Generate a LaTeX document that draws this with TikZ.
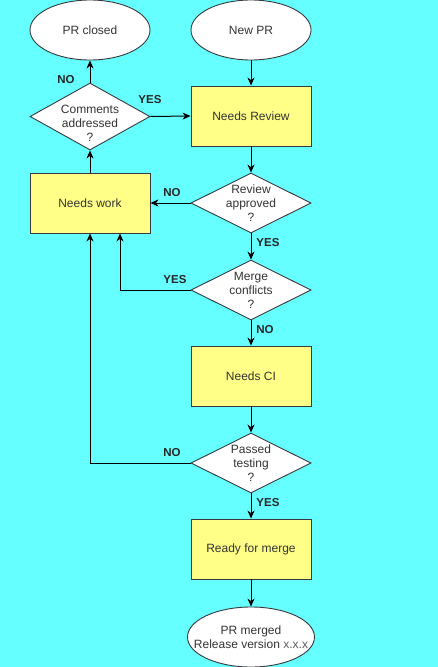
\documentclass[tikz,border=0pt]{standalone}
\usepackage{fontspec}
\setmainfont{Liberation Sans}
\usetikzlibrary{shapes.geometric,arrows.meta}
\definecolor{bgc}{HTML}{66FFFF}
\definecolor{boxc}{HTML}{FFFF88}
\definecolor{edgec}{HTML}{36393D}
\definecolor{txtc}{HTML}{333333}
\begin{document}
\begin{tikzpicture}[x=1pt,y=-1pt,
  every node/.style={font=\fontsize{12}{14}\selectfont, text=txtc},
  procbox/.style={draw=edgec, fill=boxc, line width=0.9pt, minimum width=120pt, minimum height=60pt, inner sep=0pt},
  termshape/.style={draw=edgec, fill=white, ellipse, line width=0.9pt, minimum width=120pt, minimum height=60pt, inner sep=0pt},
  decshape/.style={draw=edgec, fill=white, diamond, line width=0.9pt, minimum width=120pt, minimum height=60pt, inner sep=0pt},
  intext/.style={align=center, inner sep=0pt, text=txtc},
  flow/.style={draw=black, line width=1pt, -{Stealth[length=8pt,width=7pt,inset=2.5pt]}},
  lab/.style={font=\bfseries\fontsize{11.5}{13}\selectfont, text=black!85, inner sep=0pt}
]
\fill[bgc] (0,0) rectangle (438,667);
\useasboundingbox (0,0) rectangle (438,667);

% terminals
\node[termshape] (closed) at (90,30) {};
\node[intext] (closedt) at (closed.center) {PR closed};
\node[termshape] (newpr) at (251,30) {};
\node[intext] (newprt) at (newpr.center) {New PR};
\node[termshape, minimum width=127pt] (merged) at (251,637) {};
\node[intext] (mergedt) at (merged.center) {PR merged\\Release version {\color{txtc!80}x.x.x}};

% process boxes
\node[procbox] (review) at (251,116) {Needs Review};
\node[procbox] (work) at (90,203) {Needs work};
\node[procbox] (ci) at (251,376) {Needs CI};
\node[procbox] (ready) at (251,549) {Ready for merge};

% decisions
\node[decshape, minimum height=67pt] (comm) at (90,116.5) {};
\node[intext] (commt) at (90,123) {Comments\\addressed\\?};
\node[decshape] (appr) at (251,203) {};
\node[intext] (apprt) at (251,203.5) {Review\\approved\\?};
\node[decshape] (merge) at (251,290) {};
\node[intext] (merget) at (251,290.5) {Merge\\conflicts\\?};
\node[decshape] (pass) at (251,463) {};
\node[intext] (passt) at (251,463.5) {Passed\\testing\\?};

% connectors
\draw[flow] (newpr) -- (review);
\draw[flow] (comm.east) -- (review.west);
\draw[flow] (comm.north) -- (closed.south);
\draw[flow] (work.north) -- (comm.south);
\draw[flow] (review.south) -- (appr.north);
\draw[flow] (appr.west) -- (work.east);
\draw[flow] (appr.south) -- (merge.north);
\draw[flow] (merge.west) -| ([xshift=30pt]work.south);
\draw[flow] (merge.south) -- (ci.north);
\draw[flow] (ci.south) -- (pass.north);
\draw[flow] (pass.west) -| (work.south);
\draw[flow] (pass.south) -- (ready.north);
\draw[flow] (ready.south) -- (merged.north);

% labels
\node[lab] (l1) at (150,99.5) {YES};
\node[lab] (l2) at (66,80) {NO};
\node[lab] (l3) at (172,193) {NO};
\node[lab] (l4) at (268,242.5) {YES};
\node[lab] (l5) at (175,279.5) {YES};
\node[lab] (l6) at (265,330) {NO};
\node[lab] (l7) at (172,453) {NO};
\node[lab] (l8) at (268,503) {YES};
\end{tikzpicture}
\end{document}
